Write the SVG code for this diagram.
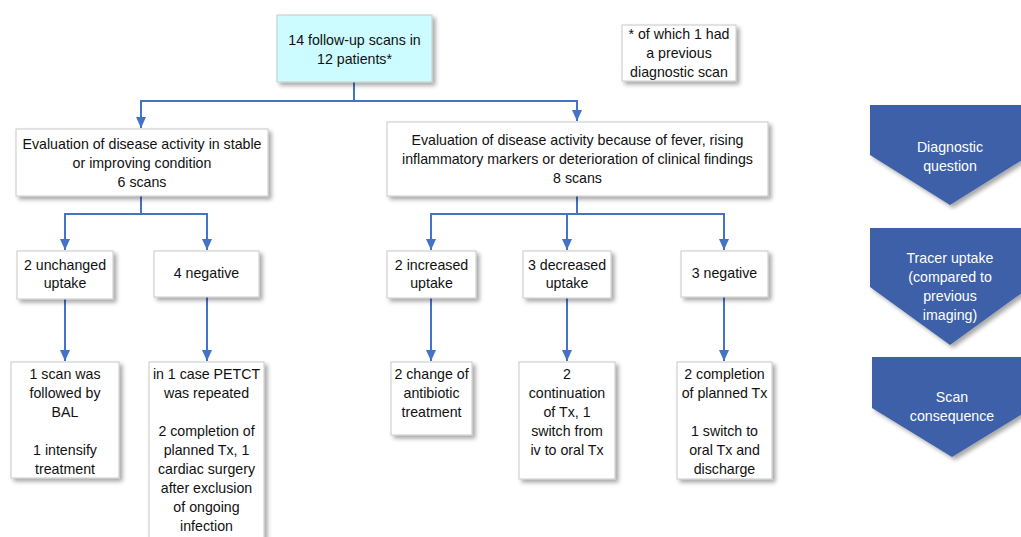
<svg xmlns="http://www.w3.org/2000/svg" width="1021" height="537" viewBox="0 0 1021 537">
<defs>
<filter id="sh" x="-20%" y="-20%" width="140%" height="140%">
<feDropShadow dx="3" dy="3" stdDeviation="2" flood-color="#000" flood-opacity="0.35"/>
</filter>
<marker id="ah" markerUnits="userSpaceOnUse" markerWidth="12" markerHeight="10" refX="11" refY="5" orient="auto">
<path d="M0,0 L11,5 L0,10 Z" fill="#4472c4"/>
</marker>
<style>
.box{fill:#fff;stroke:#c8c8c8;stroke-width:1;filter:url(#sh)}
.top{fill:#ccfcff}
.t{font-family:"Liberation Sans",Arial,sans-serif;font-size:14.2px;fill:#111;text-anchor:middle}
.w{fill:#fff}
.c{fill:none;stroke:#4472c4;stroke-width:2}
.chev{fill:#3e61a9;filter:url(#sh)}
</style>
</defs>
<rect width="1021" height="537" fill="#fff"/>
<g id="connectors">
<path class="c" d="M354,82 V101 H141 V128" marker-end="url(#ah)"/>
<path class="c" d="M354,101 H577 V121" marker-end="url(#ah)"/>
<path class="c" d="M141,196 V214 H65 V250" marker-end="url(#ah)"/>
<path class="c" d="M141,214 H207 V250" marker-end="url(#ah)"/>
<path class="c" d="M577,196 V214 H431 V250" marker-end="url(#ah)"/>
<path class="c" d="M577,214 H724 V250" marker-end="url(#ah)"/>
<path class="c" d="M567,214 V250" marker-end="url(#ah)"/>
<path class="c" d="M65,299 V361" marker-end="url(#ah)"/>
<path class="c" d="M207,297 V361" marker-end="url(#ah)"/>
<path class="c" d="M431,298 V361" marker-end="url(#ah)"/>
<path class="c" d="M567,298 V361" marker-end="url(#ah)"/>
<path class="c" d="M724,297 V361" marker-end="url(#ah)"/>
</g>
<g id="n-root">
<rect class="box top" x="277" y="15" width="155" height="67"/>
<text class="t" x="354.5" y="45">14 follow-up scans in</text>
<text class="t" x="354.5" y="64">12 patients*</text>
</g>
<g id="n-note">
<rect class="box" x="622" y="25" width="114" height="56"/>
<text class="t" x="679" y="39">* of which 1 had</text>
<text class="t" x="679" y="58">a previous</text>
<text class="t" x="679" y="77">diagnostic scan</text>
</g>
<g id="n-stable">
<rect class="box" x="16" y="129" width="252" height="67"/>
<text class="t" x="142" y="149">Evaluation of disease activity in stable</text>
<text class="t" x="142" y="168">or improving condition</text>
<text class="t" x="142" y="187">6 scans</text>
</g>
<g id="n-fever">
<rect class="box" x="387" y="122" width="381" height="74"/>
<text class="t" x="577.5" y="145">Evaluation of disease activity because of fever, rising</text>
<text class="t" x="577.5" y="164">inflammatory markers or deterioration of clinical findings</text>
<text class="t" x="577.5" y="183">8 scans</text>
</g>
<g id="n-unchanged">
<rect class="box" x="17" y="251" width="96" height="48"/>
<text class="t" x="65" y="270">2 unchanged</text>
<text class="t" x="65" y="288">uptake</text>
</g>
<g id="n-neg1">
<rect class="box" x="154" y="251" width="105" height="46"/>
<text class="t" x="206.5" y="278">4 negative</text>
</g>
<g id="n-increased">
<rect class="box" x="387" y="251" width="89" height="47"/>
<text class="t" x="431.5" y="270">2 increased</text>
<text class="t" x="431.5" y="288">uptake</text>
</g>
<g id="n-decreased">
<rect class="box" x="523" y="251" width="88" height="47"/>
<text class="t" x="567" y="270">3 decreased</text>
<text class="t" x="567" y="288">uptake</text>
</g>
<g id="n-neg2">
<rect class="box" x="681" y="251" width="87" height="46"/>
<text class="t" x="724.5" y="278">3 negative</text>
</g>
<g id="n-bal">
<rect class="box" x="11" y="362" width="108" height="116"/>
<text class="t" x="65" y="379">1 scan was</text>
<text class="t" x="65" y="398">followed by</text>
<text class="t" x="65" y="417">BAL</text>
<text class="t" x="65" y="455">1 intensify</text>
<text class="t" x="65" y="474">treatment</text>
</g>
<g id="n-petct">
<rect class="box" x="149" y="362" width="115" height="190"/>
<text class="t" x="206.5" y="379">in 1 case PETCT</text>
<text class="t" x="206.5" y="398">was repeated</text>
<text class="t" x="206.5" y="436">2 completion of</text>
<text class="t" x="206.5" y="455">planned Tx, 1</text>
<text class="t" x="206.5" y="474">cardiac surgery</text>
<text class="t" x="206.5" y="493">after exclusion</text>
<text class="t" x="206.5" y="512">of ongoing</text>
<text class="t" x="206.5" y="531">infection</text>
</g>
<g id="n-antibiotic">
<rect class="box" x="391" y="362" width="81" height="73"/>
<text class="t" x="431.5" y="379">2 change of</text>
<text class="t" x="431.5" y="398">antibiotic</text>
<text class="t" x="431.5" y="417">treatment</text>
</g>
<g id="n-continuation">
<rect class="box" x="519" y="362" width="96" height="117"/>
<text class="t" x="567" y="379">2</text>
<text class="t" x="567" y="398">continuation</text>
<text class="t" x="567" y="417">of Tx, 1</text>
<text class="t" x="567" y="436">switch from</text>
<text class="t" x="567" y="455">iv to oral Tx</text>
</g>
<g id="n-completion">
<rect class="box" x="677" y="362" width="95" height="117"/>
<text class="t" x="724.5" y="379">2 completion</text>
<text class="t" x="724.5" y="398">of planned Tx</text>
<text class="t" x="724.5" y="436">1 switch to</text>
<text class="t" x="724.5" y="455">oral Tx and</text>
<text class="t" x="724.5" y="474">discharge</text>
</g>
<g id="n-chev1">
<path class="chev" d="M870,105 H1030 V155 L950,205 L870,155 Z"/>
<text class="t w" x="950" y="152">Diagnostic</text>
<text class="t w" x="950" y="171">question</text>
</g>
<g id="n-chev2">
<path class="chev" d="M870,228 H1030 V287 L950,345 L870,287 Z"/>
<text class="t w" x="950" y="263">Tracer uptake</text>
<text class="t w" x="950" y="282">(compared to</text>
<text class="t w" x="950" y="301">previous</text>
<text class="t w" x="950" y="320">imaging)</text>
</g>
<g id="n-chev3">
<path class="chev" d="M872,357 H1032 V408 L952,457 L872,408 Z"/>
<text class="t w" x="952" y="402">Scan</text>
<text class="t w" x="952" y="421">consequence</text>
</g>
</svg>
